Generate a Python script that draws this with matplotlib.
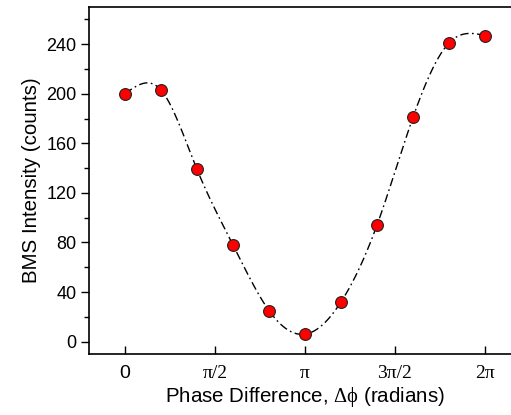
import numpy as np
import matplotlib
matplotlib.use("Agg")
import matplotlib.pyplot as plt
from matplotlib.ticker import MultipleLocator

# data (phase in units of pi/5)
phase_steps = [0, 1, 2, 3, 4, 5, 6, 7, 8, 9, 10]
intensity = [200, 203, 139, 78, 25, 6, 32, 94, 181, 241, 247]

xtick_vals = [0, 0.5, 1.0, 1.5, 2.0]   # in units of pi
xtick_labels = ["0", "π/2", "π", "3π/2", "2π"]

plt.rcParams["mathtext.fontset"] = "custom"
plt.rcParams["mathtext.rm"] = "Liberation Serif"

x = np.array(phase_steps) * np.pi / 5
y = np.array(intensity, dtype=float)


def natural_spline(xs, ys, xq):
    # natural cubic spline through the points
    n = len(xs)
    h = np.diff(xs)
    A = np.zeros((n, n))
    b = np.zeros(n)
    A[0, 0] = 1
    A[-1, -1] = 1
    for i in range(1, n - 1):
        A[i, i - 1] = h[i - 1]
        A[i, i] = 2 * (h[i - 1] + h[i])
        A[i, i + 1] = h[i]
        b[i] = 3 * ((ys[i + 1] - ys[i]) / h[i] - (ys[i] - ys[i - 1]) / h[i - 1])
    c = np.linalg.solve(A, b)
    out = np.empty_like(xq)
    for k, xv in enumerate(xq):
        i = min(max(np.searchsorted(xs, xv) - 1, 0), n - 2)
        dx = xv - xs[i]
        bi = (ys[i + 1] - ys[i]) / h[i] - h[i] * (2 * c[i] + c[i + 1]) / 3
        di = (c[i + 1] - c[i]) / (3 * h[i])
        out[k] = ys[i] + bi * dx + c[i] * dx ** 2 + di * dx ** 3
    return out


xs = np.linspace(x[0], x[-1], 400)
ys = natural_spline(x, y, xs)

fig = plt.figure(figsize=(5.11, 4.15), dpi=100)
ax = fig.add_axes([89 / 511, 61 / 415, 432 / 511, 347 / 415])

ax.plot(xs, ys, color="black", linestyle="-.", linewidth=1.0, dashes=(6, 2.5, 1.2, 2.5))
ax.plot(x, y, "o", color="red", markeredgecolor="#222222", markeredgewidth=0.8,
        markersize=8.5, zorder=3)

ax.set_xlim(-np.pi / 5, 2 * np.pi + np.pi / 5)
ax.set_ylim(-10, 270)

ax.set_xticks([v * np.pi for v in xtick_vals])
ax.set_xticklabels(xtick_labels, family="Liberation Serif", fontsize=14)
ax.get_xticklabels()[0].set_family("Liberation Sans")
ax.set_yticks(np.arange(0, 241, 40))
ax.yaxis.set_minor_locator(MultipleLocator(20))
for lab in ax.get_yticklabels():
    lab.set_family("Liberation Sans")
    lab.set_fontsize(13)

ax.tick_params(axis="x", direction="in", length=6, width=1, pad=8)
ax.tick_params(axis="y", which="major", direction="out", length=6, width=1, pad=3)
ax.tick_params(axis="y", which="minor", direction="out", length=3.5, width=1)
for s in ax.spines.values():
    s.set_linewidth(1.2)

ax.set_ylabel("BMS Intensity (counts)", family="Liberation Sans", fontsize=14.8, labelpad=4)
ax.set_xlabel("Phase Difference, $\\mathrm{\\Delta\\phi}$ (radians)", family="Liberation Sans",
              fontsize=14.8, labelpad=2)

fig.savefig("out.png", dpi=100)
